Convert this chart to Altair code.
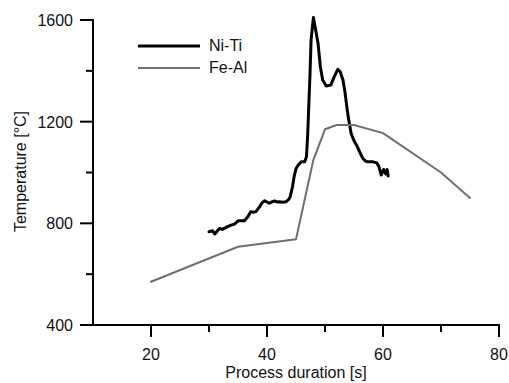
import altair as alt
import pandas as pd

# Ni-Ti measured temperature trace
niti_t = [30.0, 30.6, 31.0, 31.5, 31.8, 32.3, 32.8, 33.2, 33.8, 34.4, 35.0, 35.5, 36.1,
          36.7, 37.2, 37.6, 38.1, 38.7, 39.2, 39.6, 40.0, 40.4, 40.8, 41.3, 41.7, 42.1,
          42.7, 43.3, 43.7, 44.0, 44.2, 44.4, 44.7, 45.0, 45.3, 45.9, 46.5, 46.8, 47.0,
          47.2, 47.4, 47.6, 48.0, 48.4, 48.8, 49.2, 49.6, 50.2, 51.0, 51.6, 52.2, 52.6,
          53.1, 53.4, 53.7, 54.0, 54.5, 55.0, 55.5, 56.0, 56.5, 57.0, 57.4, 58.3, 58.9,
          59.3, 59.7, 60.1, 60.5, 60.7, 60.9]
niti_temp = [767, 771, 758, 772, 780, 776, 782, 787, 793, 797, 810, 810, 810,
             826, 846, 844, 846, 865, 882, 889, 884, 879, 884, 888, 884, 885,
             883, 885, 893, 905, 925, 944, 987, 1015, 1027, 1042, 1042, 1062, 1141,
             1260, 1377, 1521, 1610, 1560, 1508, 1416, 1364, 1340, 1344, 1377, 1406, 1397,
             1364, 1324, 1270, 1219, 1154, 1125, 1105, 1080, 1056, 1045, 1042, 1042, 1038,
             1023, 990, 1012, 994, 1012, 986]

# Fe-Al temperature trace
feal_t = [20, 35, 45, 48, 50, 52, 55, 60, 70, 75]
feal_temp = [570, 708, 737, 1050, 1170, 1187, 1187, 1155, 1000, 900]

series_names = ["Ni-Ti", "Fe-Al"]
series_colors = ["#000000", "#6f6f6f"]
series_widths = [3, 2]

x_domain = [10, 80]
y_domain = [400, 1600]
x_major = [20, 40, 60, 80]
x_minor = [30, 50, 70]
y_major = [400, 800, 1200, 1600]
y_minor = [600, 1000, 1400]
x_title = "Process duration [s]"
y_title = "Temperature [°C]"

W, H = 406, 305
FONT = "Liberation Sans"
INK = "#111111"

# pixel -> data unit factors (for tick lengths)
px_x = (x_domain[1] - x_domain[0]) / W
px_y = (y_domain[1] - y_domain[0]) / H

df = pd.concat([
    pd.DataFrame({"t": niti_t, "temp": niti_temp, "series": series_names[0],
                  "idx": range(len(niti_t))}),
    pd.DataFrame({"t": feal_t, "temp": feal_temp, "series": series_names[1],
                  "idx": range(len(feal_t))}),
])

xscale = alt.Scale(domain=x_domain, nice=False, zero=False)
yscale = alt.Scale(domain=y_domain, nice=False, zero=False)

legend = alt.Legend(
    title=None, orient="none", legendX=68, legendY=18,
    symbolType="M-6.2,0H6.2", symbolSize=100, labelFontSize=16, labelFont=FONT,
    labelColor=INK, labelOffset=32, rowPadding=6, padding=0,
)

lines = alt.Chart(df).mark_line(clip=False, strokeJoin="round", strokeCap="round").encode(
    x=alt.X("t:Q", scale=xscale, axis=None),
    y=alt.Y("temp:Q", scale=yscale, axis=None),
    color=alt.Color("series:N", scale=alt.Scale(domain=series_names, range=series_colors),
                    legend=legend),
    strokeWidth=alt.StrokeWidth("series:N",
                                scale=alt.Scale(domain=series_names, range=series_widths),
                                legend=legend),
    order="idx:Q",
)

# x ticks: vertical segments below the x axis, all positions through the scales
xt_rows = [(v, y_domain[0], y_domain[0] - 12 * px_y) for v in x_major] + \
          [(v, y_domain[0], y_domain[0] - 7 * px_y) for v in x_minor]
xt_df = pd.DataFrame(xt_rows, columns=["xv", "ya", "yb"])
x_ticks = alt.Chart(xt_df).mark_rule(color="#000000", strokeWidth=2, clip=False).encode(
    x=alt.X("xv:Q", scale=xscale, axis=None),
    y=alt.Y("ya:Q", scale=yscale, axis=None), y2="yb:Q")

# y ticks: horizontal segments left of the y axis
yt_rows = [(v, x_domain[0], x_domain[0] - 13 * px_x) for v in y_major] + \
          [(v, x_domain[0], x_domain[0] - 7 * px_x) for v in y_minor]
yt_df = pd.DataFrame(yt_rows, columns=["yv", "xa", "xb"])
y_ticks = alt.Chart(yt_df).mark_rule(color="#000000", strokeWidth=2, clip=False).encode(
    y=alt.Y("yv:Q", scale=yscale, axis=None),
    x=alt.X("xa:Q", scale=xscale, axis=None), x2="xb:Q")

# axis lines
x_line = alt.Chart(pd.DataFrame({"a": [x_domain[0]], "b": [x_domain[1]],
                                 "y0": [y_domain[0]]})).mark_rule(
    color="#000000", strokeWidth=2, strokeCap="square", clip=False).encode(
    x=alt.X("a:Q", scale=xscale, axis=None), x2="b:Q",
    y=alt.Y("y0:Q", scale=yscale, axis=None))
y_line = alt.Chart(pd.DataFrame({"a": [y_domain[0]], "b": [y_domain[1]],
                                 "x0": [x_domain[0]]})).mark_rule(
    color="#000000", strokeWidth=2, strokeCap="square", clip=False).encode(
    y=alt.Y("a:Q", scale=yscale, axis=None), y2="b:Q",
    x=alt.X("x0:Q", scale=xscale, axis=None))

x_labels = alt.Chart(pd.DataFrame({"t": x_major})).mark_text(
    font=FONT, fontSize=16, color=INK, align="center", baseline="alphabetic").encode(
    x=alt.X("t:Q", scale=xscale, axis=None), y=alt.value(H + 35), text="t:Q")

y_labels = alt.Chart(pd.DataFrame({"temp": y_major})).mark_text(
    font=FONT, fontSize=16, color=INK, align="right", baseline="middle", dy=1).encode(
    y=alt.Y("temp:Q", scale=yscale, axis=None), x=alt.value(-20), text="temp:Q")

x_title_mark = alt.Chart(pd.DataFrame({"label": [x_title]})).mark_text(
    font=FONT, fontSize=16, color=INK, align="center", baseline="alphabetic").encode(
    x=alt.value(W / 2), y=alt.value(H + 53), text="label:N")

y_title_mark = alt.Chart(pd.DataFrame({"label": [y_title]})).mark_text(
    font=FONT, fontSize=16, color=INK, align="center", baseline="alphabetic",
    angle=270).encode(
    x=alt.value(-67), y=alt.value(H / 2 - 1), text="label:N")

chart = alt.layer(
    lines, x_ticks, y_ticks, x_line, y_line,
    x_labels, y_labels, x_title_mark, y_title_mark,
).properties(
    width=W, height=H,
    autosize=alt.AutoSizeParams(type="none"),
    padding={"left": 93, "top": 20, "right": 10, "bottom": 58},
).configure_view(stroke=None)

chart.save("out.html", embed_options={"renderer": "svg", "actions": False})
